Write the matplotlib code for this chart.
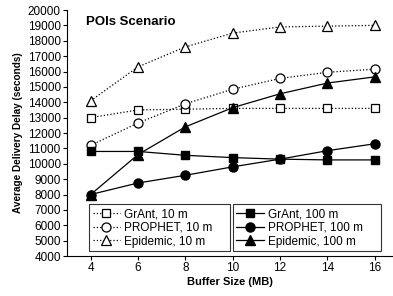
import matplotlib.pyplot as plt

plt.rcParams['font.family'] = ['Liberation Sans', 'DejaVu Sans']

buffer_mb = [4, 6, 8, 10, 12, 14, 16]

grant_10 = [13000, 13500, 13550, 13600, 13600, 13600, 13600]
prophet_10 = [11200, 12650, 13900, 14850, 15550, 15950, 16150]
epidemic_10 = [14100, 16300, 17600, 18500, 18900, 18950, 19000]

grant_100 = [10800, 10800, 10550, 10400, 10300, 10250, 10250]
prophet_100 = [8000, 8750, 9250, 9800, 10300, 10850, 11300]
epidemic_100 = [8000, 10600, 12400, 13650, 14550, 15250, 15650]

fig = plt.figure(figsize=(3.93, 2.96), dpi=100)
ax = fig.add_axes([0.1705, 0.1351, 0.8295, 0.8311])

ms = 6.5
lw = 0.9
h1, = ax.plot(buffer_mb, grant_10, ':', color='black', lw=lw, marker='s', ms=ms - 0.5,
              mfc='white', mec='black', mew=0.9, label='GrAnt, 10 m')
h2, = ax.plot(buffer_mb, prophet_10, ':', color='black', lw=lw, marker='o', ms=ms,
              mfc='white', mec='black', mew=0.9, label='PROPHET, 10 m')
h3, = ax.plot(buffer_mb, epidemic_10, ':', color='black', lw=lw, marker='^', ms=ms + 0.5,
              mfc='white', mec='black', mew=0.9, label='Epidemic, 10 m')
h4, = ax.plot(buffer_mb, grant_100, '-', color='black', lw=lw, marker='s', ms=ms - 0.5,
              mfc='black', mec='black', label='GrAnt, 100 m')
h5, = ax.plot(buffer_mb, prophet_100, '-', color='black', lw=lw, marker='o', ms=ms,
              mfc='black', mec='black', label='PROPHET, 100 m')
h6, = ax.plot(buffer_mb, epidemic_100, '-', color='black', lw=lw, marker='^', ms=ms + 0.5,
              mfc='black', mec='black', label='Epidemic, 100 m')

ax.set_xlim(3, 16.77)
ax.set_ylim(4000, 20000)
ax.set_xticks(buffer_mb)
ax.set_yticks(range(4000, 20001, 1000))
ax.tick_params(labelsize=8.5, direction='out', length=3, width=0.8, pad=1.5)
ax.spines['top'].set_visible(False)
ax.spines['right'].set_visible(False)
ax.spines['left'].set_linewidth(0.8)
ax.spines['bottom'].set_linewidth(0.8)

ax.set_xlabel('Buffer Size (MB)', fontsize=8, fontweight='bold', labelpad=2)
ax.set_ylabel('Average Delivery Delay (seconds)', fontsize=7.2, fontweight='bold', labelpad=3)
ax.text(0.058, 0.975, 'POIs Scenario', transform=ax.transAxes, fontsize=9.5,
        fontweight='bold', ha='left', va='top')

leg_kw = dict(fontsize=8.5, frameon=True, fancybox=False, edgecolor='black',
              handlelength=2.3, handletextpad=0.35, labelspacing=0.15,
              borderpad=0.3, borderaxespad=0, mode='expand')
leg1 = ax.legend(handles=[h1, h2, h3], loc='lower left',
                 bbox_to_anchor=(0.0675, 0.02, 0.4325, 0.212), **leg_kw)
leg1.get_frame().set_linewidth(0.8)
ax.add_artist(leg1)
leg2 = ax.legend(handles=[h4, h5, h6], loc='lower left',
                 bbox_to_anchor=(0.509, 0.02, 0.454, 0.212), **leg_kw)
leg2.get_frame().set_linewidth(0.8)

fig.savefig('out.png', dpi=100)
